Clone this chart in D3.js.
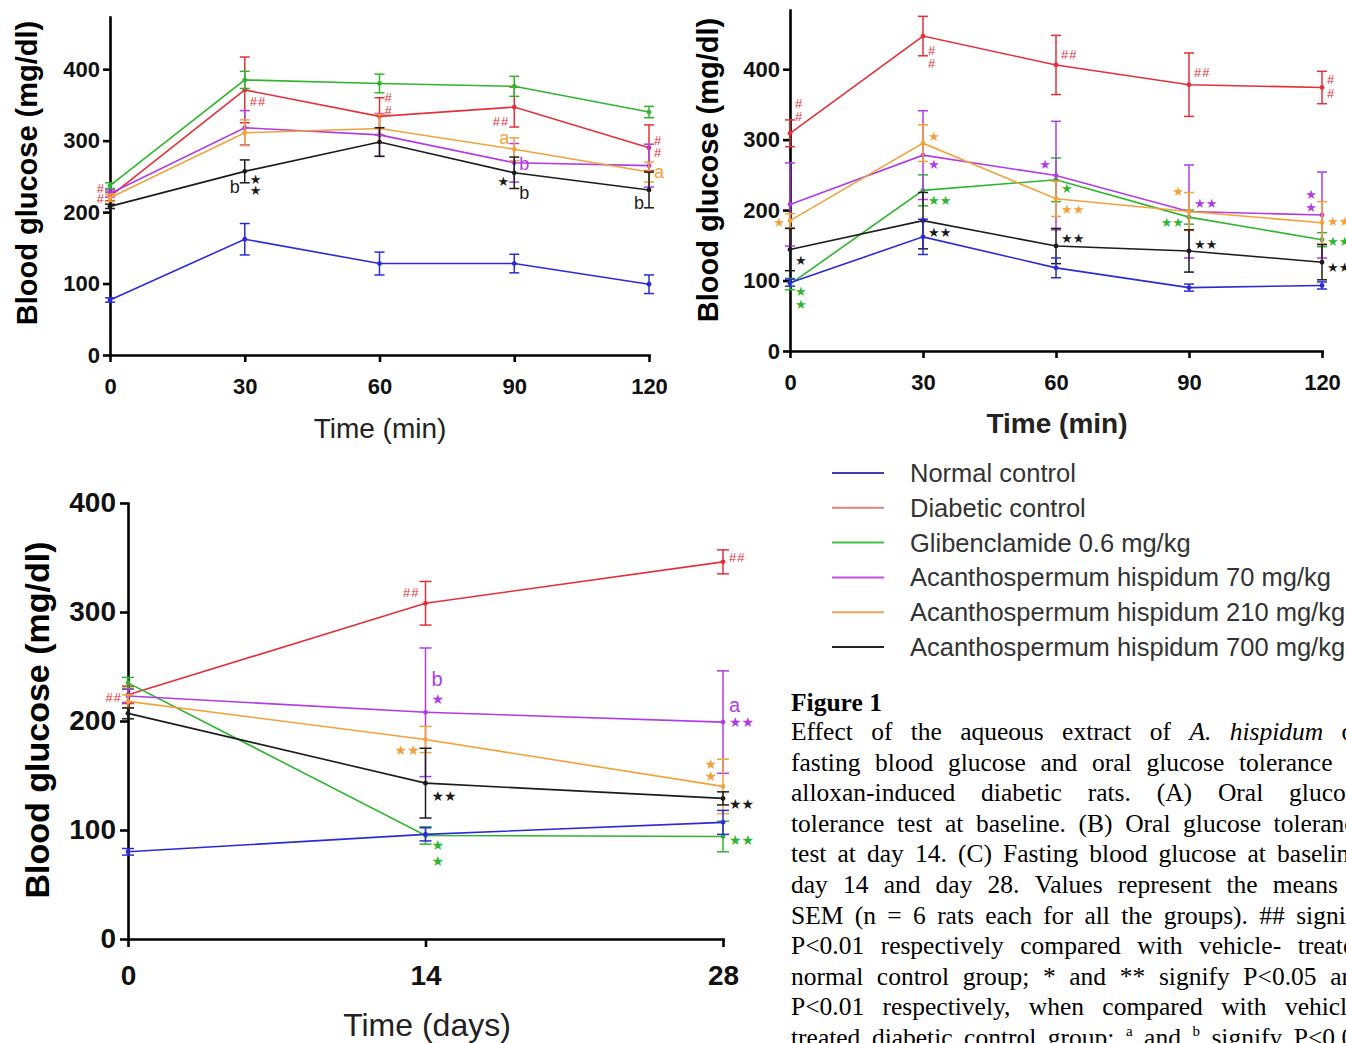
<!DOCTYPE html>
<html lang="en">
<head>
<meta charset="UTF-8"/>
<title>Figure 1 - A. hispidum blood glucose</title>
<script src="https://cdn.jsdelivr.net/npm/d3@7"></script>
<style>
  body { margin: 0; background: #fff; }
  svg { display: block; }
  .axis path, .axis line { stroke: #000; stroke-width: 2.6px; }
  .axis text { font-family: "Liberation Sans", Arial, sans-serif; font-weight: bold; fill: #111; }
</style>
</head>
<body>
<svg id="fig" width="1346" height="1043"></svg>
<script>
// groups, same order everywhere
var SERIES = ["Normal control", "Diabetic control", "Glibenclamide 0.6 mg/kg",
  "Acanthospermum hispidum 70 mg/kg", "Acanthospermum hispidum 210 mg/kg",
  "Acanthospermum hispidum 700 mg/kg"];
var COLORS = ["#2b2bd6", "#e5303a", "#2fb52f", "#b03ce6", "#f2a23a", "#1c1c1c"];
var LEGEND_COLORS = ["#3d3db8", "#d98585", "#47bf47", "#c64fdc", "#e8a45c", "#222"];

// (A) OGTT at baseline
var minA = [0, 30, 60, 90, 120];
var meanA = [
  [77, 162, 128, 128, 99],
  [222, 371, 334, 347, 290],
  [237, 385, 380, 376, 340],
  [226, 318, 308, 269, 265],
  [220, 311, 317, 288, 256],
  [208, 257, 298, 255, 231]
];
var semA = [
  [3, 22, 16, 13, 13],
  [6, 46, 26, 28, 32],
  [4, 12, 13, 14, 8],
  [5, 24, 30, 27, 30],
  [5, 18, 20, 16, 14],
  [3, 16, 20, 22, 25]
];
// [group, time, level, label, side]
var notesA = [
  [1, 0, 233, "#", "l"], [1, 0, 219, "#", "l"],
  [1, 30, 355, "##", "r"],
  [1, 60, 361, "#", "r"], [1, 60, 343, "#", "r"],
  [1, 90, 327, "##", "l"],
  [1, 120, 301, "#", "r"], [1, 120, 284, "#", "r"],
  [4, 90, 305, "a", "l"], [4, 120, 257, "a", "r"],
  [3, 90, 268, "b", "r"],
  [5, 30, 236, "b", "l"], [5, 30, 246, "*", "r"], [5, 30, 230, "*", "r"],
  [5, 90, 243, "*", "l"], [5, 90, 228, "b", "r"],
  [5, 120, 214, "b", "l"]
];

// (B) OGTT at day 14
var minB = [0, 30, 60, 90, 120];
var meanB = [
  [97, 162, 118, 90, 93],
  [309, 447, 406, 378, 374],
  [95, 228, 243, 190, 158],
  [208, 278, 249, 198, 193],
  [185, 295, 216, 198, 182],
  [144, 185, 149, 142, 126]
];
var semB = [
  [5, 25, 14, 5, 5],
  [19, 28, 42, 45, 23],
  [8, 22, 31, 10, 10],
  [59, 63, 77, 66, 61],
  [10, 26, 25, 27, 30],
  [30, 40, 25, 30, 25]
];
var notesB = [
  [1, 0, 352, "#", "r"], [1, 0, 333, "#", "r"],
  [1, 30, 427, "#", "r"], [1, 30, 408, "#", "r"],
  [1, 60, 421, "##", "r"], [1, 90, 396, "##", "r"],
  [1, 120, 386, "#", "r"], [1, 120, 366, "#", "r"],
  [4, 0, 182, "*", "l"], [4, 30, 304, "*", "r"], [4, 60, 201, "**", "r"],
  [4, 90, 226, "*", "l"], [4, 120, 184, "**", "r"],
  [3, 30, 265, "*", "r"], [3, 60, 265, "*", "l"], [3, 90, 210, "**", "r"],
  [3, 120, 223, "*", "l"], [3, 120, 204, "*", "l"],
  [2, 0, 84, "*", "r"], [2, 0, 66, "*", "r"], [2, 30, 214, "**", "r"],
  [2, 60, 231, "*", "r"], [2, 90, 182, "**", "l"], [2, 120, 156, "**", "r"],
  [5, 0, 129, "*", "r"], [5, 30, 169, "**", "r"], [5, 60, 160, "**", "r"],
  [5, 90, 152, "**", "r"], [5, 120, 119, "**", "r"]
];

// (C) fasting blood glucose
var dayC = [0, 14, 28];
var meanC = [
  [80, 96, 107],
  [224, 308, 346],
  [235, 95, 94],
  [223, 208, 199],
  [218, 183, 140],
  [207, 143, 129]
];
var semC = [
  [3, 6, 11],
  [8, 20, 11],
  [5, 8, 14],
  [6, 59, 47],
  [6, 12, 25],
  [5, 32, 6]
];
var notesC = [
  [1, 0, 222, "##", "l"], [1, 14, 318, "##", "l"], [1, 28, 350, "##", "r"],
  [3, 14, 239, "b", "r"], [3, 14, 220, "*", "r"],
  [3, 28, 215, "a", "r"], [3, 28, 199, "**", "r"],
  [4, 14, 173, "**", "l"], [4, 28, 161, "*", "l"], [4, 28, 150, "*", "l"],
  [5, 14, 131, "**", "r"], [5, 28, 124, "**", "r"],
  [2, 14, 86, "*", "r"], [2, 14, 72, "*", "r"], [2, 28, 91, "**", "r"]
];

var CAPTION = [
  "Effect of the aqueous extract of _A._ _hispidum_ on",
  "fasting blood glucose and oral glucose tolerance in",
  "alloxan-induced diabetic rats. (A) Oral glucose",
  "tolerance test at baseline. (B) Oral glucose tolerance",
  "test at day 14. (C) Fasting blood glucose at baseline,",
  "day 14 and day 28. Values represent the means \u00b1",
  "SEM (n = 6 rats each for all the groups). ## signify",
  "P<0.01 respectively compared with vehicle- treated",
  "normal control group; * and ** signify P<0.05 and",
  "P<0.01 respectively, when compared with vehicle-",
  "treated diabetic control group; ^a and ^b signify P<0.05"
];

var svg = d3.select("#fig");
svg.append("rect").attr("width", 1346).attr("height", 1043).attr("fill", "#fff");

function drawPanel(p) {
  var x = d3.scaleLinear().domain(p.xd).range(p.xr);
  var y = d3.scaleLinear().domain(p.yd).range(p.yr);
  var g = svg.append("g");

  // axes
  g.append("g").attr("class", "axis")
    .attr("transform", "translate(0," + p.yr[0] + ")")
    .call(d3.axisBottom(x).tickValues(p.times).tickSize(p.tick).tickSizeOuter(0).tickPadding(p.xpad))
    .selectAll("text").style("font-size", p.tickFont + "px");
  g.append("g").attr("class", "axis")
    .attr("transform", "translate(" + p.xr[0] + ",0)")
    .call(d3.axisLeft(y).tickValues([0, 100, 200, 300, 400]).tickSize(p.tick).tickSizeOuter(0).tickPadding(p.ypad))
    .selectAll("text").style("font-size", p.tickFont + "px");
  g.selectAll(".axis .domain").attr("stroke-linecap", "square");

  // y title
  g.append("text")
    .attr("transform", "translate(" + p.ytx + "," + p.yty + ") rotate(-90)")
    .attr("text-anchor", "middle").attr("dy", "0.35em")
    .style("font-family", "Liberation Sans, Arial, sans-serif")
    .style("font-weight", "bold").style("font-size", p.ytFont + "px")
    .text("Blood glucose (mg/dl)");
  // x title
  g.append("text")
    .attr("x", p.xtx).attr("y", p.xty).attr("text-anchor", "middle")
    .style("font-family", "Liberation Sans, Arial, sans-serif")
    .style("font-weight", p.xtBold ? "bold" : "normal").style("font-size", p.xtFont + "px")
    .style("fill", "#222")
    .text(p.xtitle);

  // series, drawn with normal control last so it sits on top
  [1, 2, 3, 4, 5, 0].forEach(function(i) {
    var pts = p.times.map(function(t, j) { return {t: t, v: p.means[i][j], e: p.sems[i][j]}; });
    var sg = g.append("g").attr("stroke", COLORS[i]).attr("fill", COLORS[i]);
    sg.append("path").datum(pts)
      .attr("d", d3.line().x(function(d) { return x(d.t); }).y(function(d) { return y(d.v); }))
      .attr("fill", "none").attr("stroke-width", 1.6);
    var eb = sg.selectAll(null).data(pts).enter().append("g").attr("stroke-width", 1.5);
    eb.append("line")
      .attr("x1", function(d) { return x(d.t); }).attr("x2", function(d) { return x(d.t); })
      .attr("y1", function(d) { return y(d.v + d.e); }).attr("y2", function(d) { return y(d.v - d.e); });
    eb.append("line")
      .attr("x1", function(d) { return x(d.t) - p.cap; }).attr("x2", function(d) { return x(d.t) + p.cap; })
      .attr("y1", function(d) { return y(d.v + d.e); }).attr("y2", function(d) { return y(d.v + d.e); });
    eb.append("line")
      .attr("x1", function(d) { return x(d.t) - p.cap; }).attr("x2", function(d) { return x(d.t) + p.cap; })
      .attr("y1", function(d) { return y(d.v - d.e); }).attr("y2", function(d) { return y(d.v - d.e); });
    sg.selectAll(null).data(pts).enter().append("circle")
      .attr("cx", function(d) { return x(d.t); }).attr("cy", function(d) { return y(d.v); })
      .attr("r", 2.4).attr("stroke", "none");
  });

  // significance marks
  p.notes.forEach(function(n) {
    var isStar = n[3].indexOf("*") >= 0;
    var isHash = n[3].indexOf("#") >= 0;
    var fs = isStar ? p.starFont : (isHash ? p.hashFont : p.letterFont);
    var t = g.append("text")
      .attr("x", x(n[1]) + (n[4] === "r" ? p.gap : -p.gap))
      .attr("y", y(n[2]))
      .attr("dy", "0.36em")
      .attr("text-anchor", n[4] === "r" ? "start" : "end")
      .style("font-family", isStar ? "DejaVu Sans, sans-serif" : "Liberation Sans, Arial, sans-serif")
      .style("font-size", fs + "px")
      .style("fill", COLORS[n[0]])
      .text(isStar ? n[3].replace(/\*/g, "\u2605") : n[3]);
    if (isHash) t.style("letter-spacing", "1px");
  });
}

drawPanel({
  times: minA, means: meanA, sems: semA, notes: notesA,
  xd: [0, 120], xr: [110, 649], yd: [0, 473], yr: [355, 17],
  tick: 7, xpad: 16, ypad: 3, tickFont: 22, cap: 5, gap: 5,
  starFont: 13, hashFont: 13, letterFont: 18,
  ytx: 27, yty: 173, ytFont: 29,
  xtx: 380, xty: 438, xtFont: 28, xtBold: false, xtitle: "Time (min)"
});
drawPanel({
  times: minB, means: meanB, sems: semB, notes: notesB,
  xd: [0, 120], xr: [790, 1322], yd: [0, 484], yr: [351, 10],
  tick: 7, xpad: 16, ypad: 3, tickFont: 22, cap: 5, gap: 5,
  starFont: 13, hashFont: 13, letterFont: 18,
  ytx: 708, yty: 170, ytFont: 29,
  xtx: 1057, xty: 433, xtFont: 28, xtBold: true, xtitle: "Time (min)"
});
drawPanel({
  times: dayC, means: meanC, sems: semC, notes: notesC,
  xd: [0, 28], xr: [128, 723], yd: [0, 400], yr: [939, 503],
  tick: 8, xpad: 18, ypad: 4, tickFont: 28, cap: 6, gap: 6,
  starFont: 14, hashFont: 13, letterFont: 20,
  ytx: 37, yty: 720, ytFont: 34,
  xtx: 427, xty: 1036, xtFont: 32, xtBold: false, xtitle: "Time (days)"
});

// legend
var leg = svg.append("g");
SERIES.forEach(function(name, i) {
  var ly = 473 + i * 34.8;
  leg.append("line").attr("x1", 832).attr("x2", 884).attr("y1", ly).attr("y2", ly)
    .attr("stroke", LEGEND_COLORS[i]).attr("stroke-width", 2);
  leg.append("text").attr("x", 910).attr("y", ly).attr("dy", "0.35em")
    .style("font-family", "Liberation Sans, Arial, sans-serif")
    .style("font-size", "25.5px").style("fill", "#333")
    .text(name);
});

// caption
var cap = svg.append("g").style("font-family", "Liberation Serif, Times New Roman, serif")
  .style("fill", "#000");
cap.append("text").attr("x", 791).attr("y", 711)
  .style("font-weight", "bold").style("font-size", "25.5px").text("Figure 1");

var LEFT = 791, RIGHT = 1367, FS = 25.5;
CAPTION.forEach(function(line, li) {
  var by = 740 + li * 30.6;
  var words = line.split(/\s+/);
  var nodes = words.map(function(w) {
    var t = cap.append("text").attr("y", by).style("font-size", FS + "px");
    if (w[0] === "_") {
      t.style("font-style", "italic").text(w.replace(/_/g, ""));
    } else if (w[0] === "^") {
      t.append("tspan").attr("dy", -10).style("font-size", "15px").text(w.slice(1));
    } else {
      t.text(w);
    }
    return t;
  });
  var widths = nodes.map(function(t) { return t.node().getComputedTextLength(); });
  var total = d3.sum(widths);
  var gap = (RIGHT - LEFT - total) / (nodes.length - 1);
  var cx = LEFT;
  nodes.forEach(function(t, k) {
    t.attr("x", cx);
    cx += widths[k] + gap;
  });
});
</script>
</body>
</html>
